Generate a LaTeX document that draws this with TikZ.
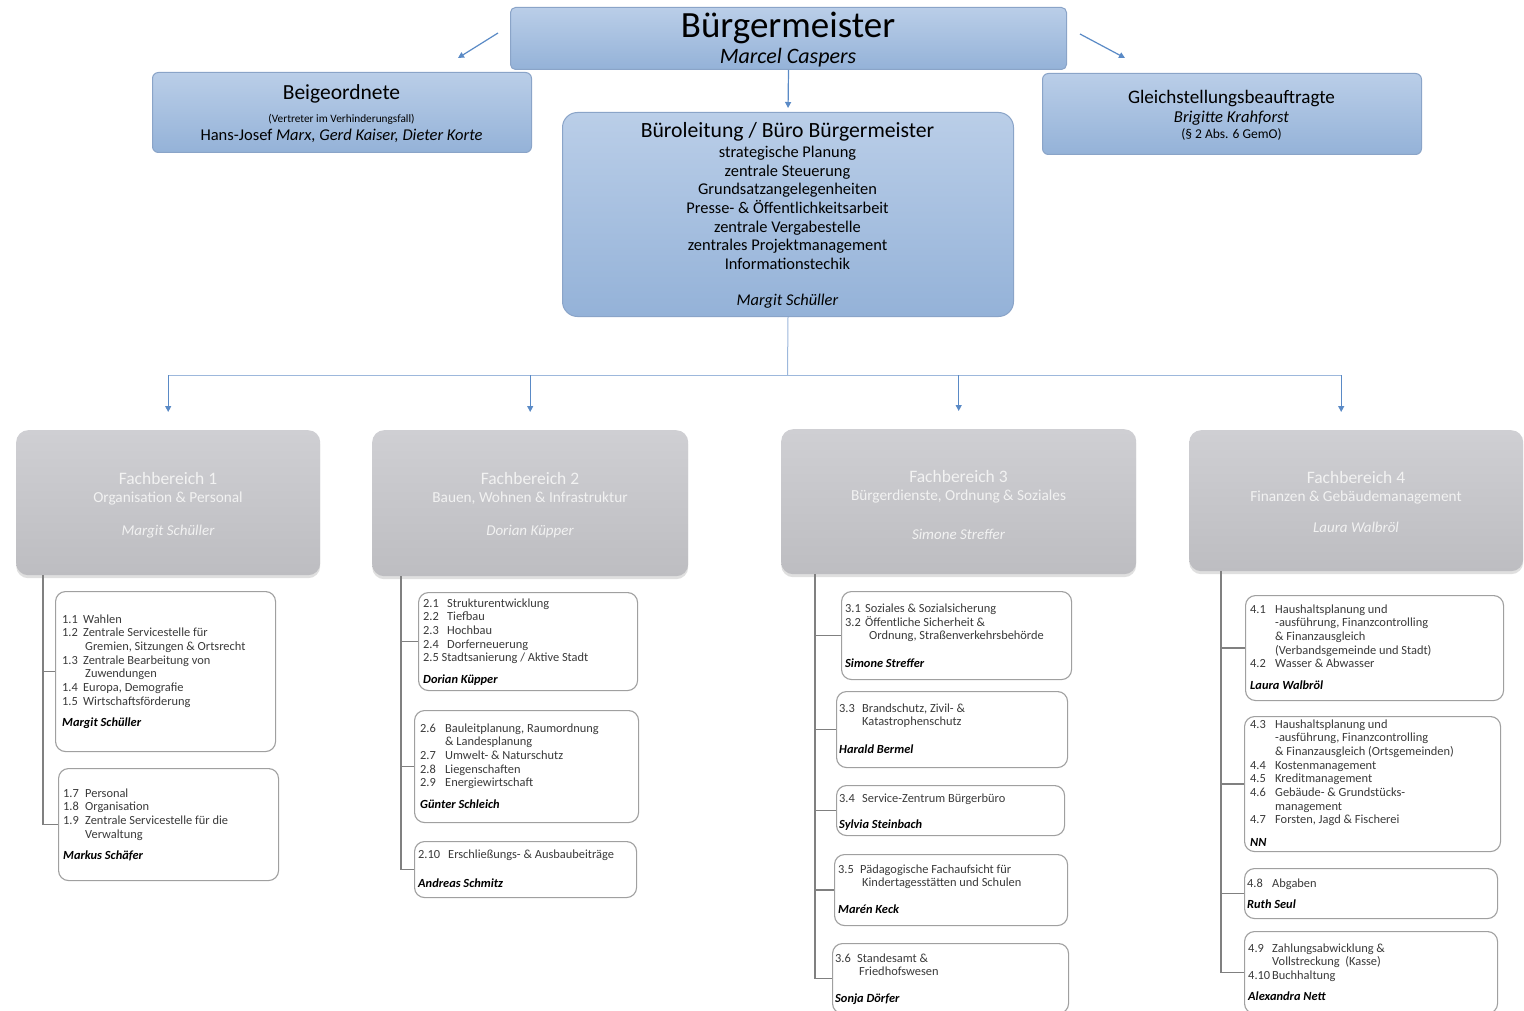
\documentclass[tikz,border=0pt]{standalone}
\usepackage{fontspec}
\setmainfont{Carlito}
\usetikzlibrary{arrows.meta,shadows}
\definecolor{bluetop}{HTML}{BACEE8}
\definecolor{bluebot}{HTML}{94B2D8}
\definecolor{blueline}{HTML}{8AA4C8}
\definecolor{arrowblue}{HTML}{5A8AC6}
\definecolor{busblue}{HTML}{9DB8DC}
\definecolor{greytop}{HTML}{CFCFD3}
\definecolor{greybot}{HTML}{BDBDC1}
\definecolor{treegrey}{HTML}{808080}
\definecolor{boxgrey}{HTML}{A0A0A0}
\definecolor{textgrey}{HTML}{3A3A3A}
\newcommand{\who}[1]{{\color{black}\bfseries\itshape #1}}
\begin{document}
\begin{tikzpicture}[x=1pt,y=-1pt,
  bluebox/.style={draw=blueline,line width=1pt,top color=bluetop,bottom color=bluebot,rounded corners=6pt,anchor=north west},
  fbbox/.style={top color=greytop,bottom color=greybot,rounded corners=12pt,anchor=north west,
    drop shadow={shadow xshift=0pt,shadow yshift=-3pt,opacity=0.25}},
  subbox/.style={draw=boxgrey,line width=1.1pt,fill=white,rounded corners=10pt,anchor=north west},
  subtext/.style={anchor=base west,inner sep=0pt,text=textgrey,font=\fontsize{12.4}{13.7}\selectfont},
  fbtext/.style={anchor=base,inner sep=0pt,text=white!95!black},
  arr/.style={draw=arrowblue,line width=1.2pt,-{Triangle[width=6pt,length=6pt]}},
  link/.style={draw=busblue,line width=1pt},
  tree/.style={draw=treegrey,line width=1.3pt}]
\fill[white] (0,0) rectangle (1524,1011);
\useasboundingbox (0,0) rectangle (1524,1011);

% Leitung
\node[bluebox,rounded corners=5pt,minimum width=556pt,minimum height=62pt] (bgm) at (510,7) {};
\node[anchor=base,inner sep=0pt,font=\fontsize{37}{40}\selectfont] (bgmtitle) at (788,38) {Bürgermeister};
\node[anchor=base,inner sep=0pt,font=\fontsize{22}{24}\selectfont\itshape] (bgmname) at (788,64) {Marcel Caspers};

\node[bluebox,minimum width=379pt,minimum height=80pt] (beig) at (152,72) {};
\node[anchor=base,inner sep=0pt,font=\fontsize{21.5}{24}\selectfont] (beigtitle) at (341.5,100) {Beigeordnete};
\node[anchor=base,inner sep=0pt,font=\fontsize{11.3}{13}\selectfont] (beignote) at (341.5,123) {(Vertreter im Verhinderungsfall)};
\node[anchor=base,inner sep=0pt,font=\fontsize{16.5}{18}\selectfont] (beignames) at (341.5,141) {Hans-Josef \textit{Marx, Gerd Kaiser, Dieter Korte}};

\node[bluebox,rounded corners=15pt,minimum width=451pt,minimum height=204pt] (buero) at (562,112) {};
\node[anchor=base,inner sep=0pt,font=\fontsize{21.7}{24}\selectfont] (buerotitle) at (787.5,138) {Büroleitung / Büro Bürgermeister};
\node[anchor=base,inner sep=0pt,font=\fontsize{16.4}{18.5}\selectfont] (buerotasks) at (787.5,158) {\begin{tabular}[t]{@{}c@{}}
  strategische Planung\\ zentrale Steuerung\\ Grundsatzangelegenheiten\\
  Presse- \& Öffentlichkeitsarbeit\\ zentrale Vergabestelle\\ zentrales Projektmanagement\\
  Informationstechik\\[18pt] \textit{Margit Schüller}\end{tabular}};

\node[bluebox,minimum width=379pt,minimum height=81pt] (gleich) at (1042,73) {};
\node[anchor=base,inner sep=0pt,font=\fontsize{19.1}{24}\selectfont] (gleichtitle) at (1231.5,104) {Gleichstellungsbeauftragte};
\node[anchor=base,inner sep=0pt,font=\fontsize{16.6}{18}\selectfont\itshape] (gleichname) at (1231.5,123) {Brigitte Krahforst};
\node[anchor=base,inner sep=0pt,font=\fontsize{13.5}{15}\selectfont] (gleichnote) at (1231.5,139) {(§ 2 Abs. 6 GemO)};

\coordinate (l0) at (498,33);
\coordinate (l1) at (458,58);
\coordinate (r0) at (1080,34);
\coordinate (r1) at (1125,58);
\draw[arr] (l0) -- (l1);
\draw[arr] (r0) -- (r1);
\draw[arr,shorten >=4pt] (bgm.south) -- (buero.north);

% Fachbereiche
\node[fbbox,minimum width=304pt,minimum height=145pt] (fb1) at (16,430) {};
\node[fbbox,minimum width=316pt,minimum height=146pt] (fb2) at (372,430) {};
\node[fbbox,minimum width=355pt,minimum height=145pt] (fb3) at (781,429) {};
\node[fbbox,minimum width=334pt,minimum height=141pt] (fb4) at (1189,430) {};

\node[fbtext,font=\fontsize{17.5}{20}\selectfont] (fb1title) at (168,484) {Fachbereich 1};
\node[fbtext,font=\fontsize{15.3}{17}\selectfont] (fb1sub) at (168,502) {Organisation \& Personal};
\node[fbtext,font=\fontsize{15}{17}\selectfont\itshape] (fb1head) at (168,535) {Margit Schüller};
\node[fbtext,font=\fontsize{17.5}{20}\selectfont] (fb2title) at (530,484) {Fachbereich 2};
\node[fbtext,font=\fontsize{15.3}{17}\selectfont] (fb2sub) at (530,502) {Bauen, Wohnen \& Infrastruktur};
\node[fbtext,font=\fontsize{15}{17}\selectfont\itshape] (fb2head) at (530,535) {Dorian Küpper};
\node[fbtext,font=\fontsize{17.5}{20}\selectfont] (fb3title) at (958.5,482) {Fachbereich 3};
\node[fbtext,font=\fontsize{15.3}{17}\selectfont] (fb3sub) at (958.5,500) {Bürgerdienste, Ordnung \& Soziales};
\node[fbtext,font=\fontsize{15}{17}\selectfont\itshape] (fb3head) at (958.5,539) {Simone Streffer};
\node[fbtext,font=\fontsize{17.5}{20}\selectfont] (fb4title) at (1356,483) {Fachbereich 4};
\node[fbtext,font=\fontsize{15.3}{17}\selectfont] (fb4sub) at (1356,501) {Finanzen \& Gebäudemanagement};
\node[fbtext,font=\fontsize{15}{17}\selectfont\itshape] (fb4head) at (1356,532) {Laura Walbröl};

\coordinate (bus) at (787.5,375);
\coordinate (fb4in) at ([xshift=-15pt]fb4.north);
\draw[link] (buero.south) -- (bus);
\draw[link] (bus -| fb1.north) -- (bus -| fb4in);
\foreach \f in {fb1.north,fb2.north,fb3.north,fb4in} {
  \draw[arr,shorten >=18pt] (bus -| \f) -- (\f);
}

% Fachbereich 1
\node[subbox,minimum width=220pt,minimum height=160pt] (b11) at (55,591) {};
\node[subbox,minimum width=220pt,minimum height=112pt] (b17) at (58,768) {};
\node[subtext] (t11) at (62,623) {\begin{tabular}[t]{@{}p{21pt}@{}l@{}}
  1.1 & Wahlen\\ 1.2 & Zentrale Servicestelle für\\ & \hspace{2pt}Gremien, Sitzungen \& Ortsrecht\\
  1.3 & Zentrale Bearbeitung von\\ & \hspace{2pt}Zuwendungen\\ 1.4 & Europa, Demografie\\
  1.5 & Wirtschaftsförderung\\[8pt] \multicolumn{2}{@{}l@{}}{\who{Margit Schüller}}\end{tabular}};
\node[subtext] (t17) at (63,797) {\begin{tabular}[t]{@{}p{22pt}@{}l@{}}
  1.7 & Personal\\ 1.8 & Organisation\\ 1.9 & Zentrale Servicestelle für die\\ & Verwaltung\\[8pt]
  \multicolumn{2}{@{}l@{}}{\who{Markus Schäfer}}\end{tabular}};
\draw[tree] ([xshift=27pt]fb1.south west) |- (b11.west);
\draw[tree] ([xshift=27pt]fb1.south west) |- (b17.west);

% Fachbereich 2
\node[subbox,minimum width=219pt,minimum height=98pt] (b21) at (418,592) {};
\node[subbox,minimum width=224pt,minimum height=112pt] (b26) at (414,710) {};
\node[subbox,minimum width=222pt,minimum height=56pt] (b210) at (414,841) {};
\node[subtext] (t21) at (423,607) {\begin{tabular}[t]{@{}p{24pt}@{}l@{}}
  2.1 & Strukturentwicklung\\ 2.2 & Tiefbau\\ 2.3 & Hochbau\\ 2.4 & Dorferneuerung\\
  \multicolumn{2}{@{}l@{}}{2.5 Stadtsanierung / Aktive Stadt}\\[8pt]
  \multicolumn{2}{@{}l@{}}{\who{Dorian Küpper}}\end{tabular}};
\node[subtext] (t26) at (420,732) {\begin{tabular}[t]{@{}p{25pt}@{}l@{}}
  2.6 & Bauleitplanung, Raumordnung\\ & \& Landesplanung\\ 2.7 & Umwelt- \& Naturschutz\\
  2.8 & Liegenschaften\\ 2.9 & Energiewirtschaft\\[8pt]
  \multicolumn{2}{@{}l@{}}{\who{Günter Schleich}}\end{tabular}};
\node[subtext] (t210) at (418,858) {\begin{tabular}[t]{@{}p{30pt}@{}l@{}}
  2.10 & Erschließungs- \& Ausbaubeiträge\\[16pt]
  \multicolumn{2}{@{}l@{}}{\who{Andreas Schmitz}}\end{tabular}};
\foreach \b in {b21,b26,b210} {
  \draw[tree] ([xshift=29pt]fb2.south west) |- (\b.west);
}

% Fachbereich 3
\node[subbox,minimum width=230pt,minimum height=88pt] (b31) at (841,591) {};
\node[subbox,minimum width=231pt,minimum height=76pt] (b33) at (836,691) {};
\node[subbox,minimum width=228pt,minimum height=50pt] (b34) at (836,785) {};
\node[subbox,minimum width=233pt,minimum height=71pt] (b35) at (834,854) {};
\node[subbox,minimum width=236pt,minimum height=70pt] (b36) at (832,943) {};
\node[subtext] (t31) at (845,612) {\begin{tabular}[t]{@{}p{20pt}@{}l@{}}
  3.1 & Soziales \& Sozialsicherung\\ 3.2 & Öffentliche Sicherheit \&\\
  & \hspace{4pt}Ordnung, Straßenverkehrsbehörde\\[14pt]
  \multicolumn{2}{@{}l@{}}{\who{Simone Streffer}}\end{tabular}};
\node[subtext] (t33) at (839,712) {\begin{tabular}[t]{@{}p{23pt}@{}l@{}}
  3.3 & Brandschutz, Zivil- \&\\ & Katastrophenschutz\\[14pt]
  \multicolumn{2}{@{}l@{}}{\who{Harald Bermel}}\end{tabular}};
\node[subtext] (t34) at (839,802) {\begin{tabular}[t]{@{}p{23pt}@{}l@{}}
  3.4 & Service-Zentrum Bürgerbüro\\[13pt]
  \multicolumn{2}{@{}l@{}}{\who{Sylvia Steinbach}}\end{tabular}};
\node[subtext] (t35) at (838,873) {\begin{tabular}[t]{@{}p{22pt}@{}l@{}}
  3.5 & Pädagogische Fachaufsicht für\\ & \hspace{2pt}Kindertagesstätten und Schulen\\[13pt]
  \multicolumn{2}{@{}l@{}}{\who{Marén Keck}}\end{tabular}};
\node[subtext] (t36) at (835,962) {\begin{tabular}[t]{@{}p{22pt}@{}l@{}}
  3.6 & Standesamt \&\\ & \hspace{2pt}Friedhofswesen\\[13pt]
  \multicolumn{2}{@{}l@{}}{\who{Sonja Dörfer}}\end{tabular}};
\foreach \b in {b31,b33,b34,b35,b36} {
  \draw[tree] ([xshift=34pt]fb3.south west) |- (\b.west);
}

% Fachbereich 4
\node[subbox,minimum width=258pt,minimum height=105pt] (b41) at (1245,595) {};
\node[subbox,minimum width=256pt,minimum height=135pt] (b43) at (1244,716) {};
\node[subbox,minimum width=253pt,minimum height=50pt] (b48) at (1244,868) {};
\node[subbox,minimum width=253pt,minimum height=82pt] (b49) at (1244,931) {};
\node[subtext] (t41) at (1250,613) {\begin{tabular}[t]{@{}p{25pt}@{}l@{}}
  4.1 & Haushaltsplanung und\\ & -ausführung, Finanzcontrolling\\ & \& Finanzausgleich\\
  & (Verbandsgemeinde und Stadt)\\ 4.2 & Wasser \& Abwasser\\[8pt]
  \multicolumn{2}{@{}l@{}}{\who{Laura Walbröl}}\end{tabular}};
\node[subtext] (t43) at (1250,728) {\begin{tabular}[t]{@{}p{25pt}@{}l@{}}
  4.3 & Haushaltsplanung und\\ & -ausführung, Finanzcontrolling\\ & \& Finanzausgleich (Ortsgemeinden)\\
  4.4 & Kostenmanagement\\ 4.5 & Kreditmanagement\\ 4.6 & Gebäude- \& Grundstücks-\\
  & management\\ 4.7 & Forsten, Jagd \& Fischerei\\[9pt]
  \multicolumn{2}{@{}l@{}}{\who{NN}}\end{tabular}};
\node[subtext] (t48) at (1247,887) {\begin{tabular}[t]{@{}p{25pt}@{}l@{}}
  4.8 & Abgaben\\[8pt] \multicolumn{2}{@{}l@{}}{\who{Ruth Seul}}\end{tabular}};
\node[subtext] (t49) at (1248,952) {\begin{tabular}[t]{@{}p{24pt}@{}l@{}}
  4.9 & Zahlungsabwicklung \&\\ & Vollstreckung~ (Kasse)\\ 4.10 & Buchhaltung\\[7pt]
  \multicolumn{2}{@{}l@{}}{\who{Alexandra Nett}}\end{tabular}};
\foreach \b in {b41,b43,b48,b49} {
  \draw[tree] ([xshift=32pt]fb4.south west) |- (\b.west);
}
\end{tikzpicture}
\end{document}
